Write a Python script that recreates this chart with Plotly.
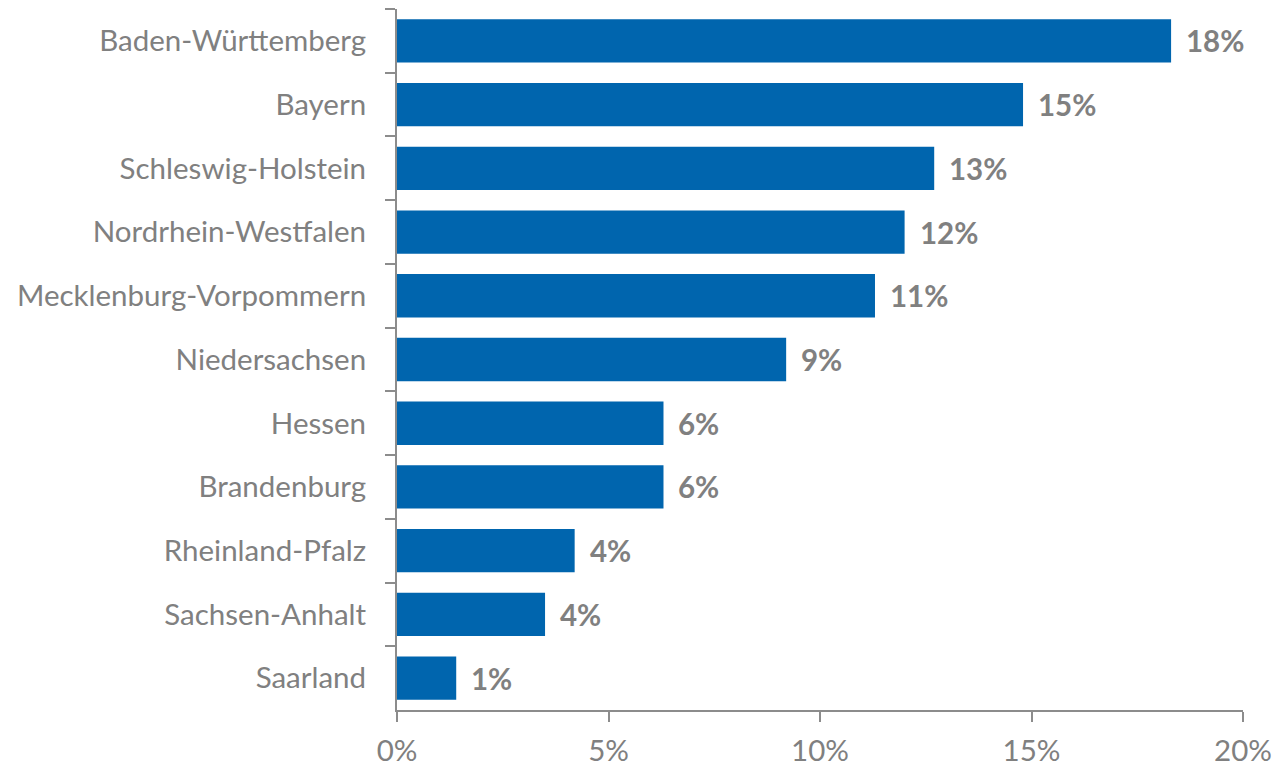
import plotly.graph_objects as go

states = ["Baden-Württemberg", "Bayern", "Schleswig-Holstein", "Nordrhein-Westfalen",
          "Mecklenburg-Vorpommern", "Niedersachsen", "Hessen", "Brandenburg",
          "Rheinland-Pfalz", "Sachsen-Anhalt", "Saarland"]
shares = [18.3, 14.8, 12.7, 12.0, 11.3, 9.2, 6.3, 6.3, 4.2, 3.5, 1.4]
labels = ["18%", "15%", "13%", "12%", "11%", "9%", "6%", "6%", "4%", "4%", "1%"]
xticks = [0, 5, 10, 15, 20]
xticklabels = ["0%", "5%", "10%", "15%", "20%"]

FONT = "Lato"
SIZE = 29.5
GRAY = "#808080"
LINE = "#8c8c8c"

fig = go.Figure(go.Bar(
    x=shares, y=states, orientation="h",
    marker=dict(color="#0065AE", line=dict(width=0)),
    width=0.68,
    hoverinfo="skip",
))

for s, v, t in zip(states, shares, labels):
    fig.add_annotation(x=v, y=s, text=t, showarrow=False, xanchor="left",
                       xshift=13, yshift=0,
                       font=dict(family=FONT, size=SIZE, color=GRAY, weight="bold"))

fig.update_layout(
    width=1276, height=766,
    margin=dict(l=397, r=33, t=9, b=56),
    plot_bgcolor="white", paper_bgcolor="white",
    showlegend=False,
    font=dict(family=FONT, size=SIZE, color=GRAY),
    xaxis=dict(range=[0, 20], tickvals=xticks, ticktext=xticklabels,
               showgrid=False, zeroline=False, showline=True, automargin=False,
               linecolor=LINE, linewidth=2, ticks="outside", ticklen=10,
               tickwidth=2, tickcolor=LINE, ticklabelstandoff=4,
               tickfont=dict(family=FONT, size=SIZE, color=GRAY)),
    yaxis=dict(categoryorder="array", categoryarray=states, autorange="reversed",
               showgrid=False, showline=True, linecolor=LINE, linewidth=2,
               automargin=False,
               ticks="outside", ticklen=10, tickwidth=2, tickcolor=LINE,
               tickson="boundaries", ticklabelstandoff=23,
               tickfont=dict(family=FONT, size=SIZE, color=GRAY)),
)

fig.write_html("out.html", config={"displayModeBar": False},
               post_script="document.body.style.margin='0';document.body.style.overflow='hidden';")
